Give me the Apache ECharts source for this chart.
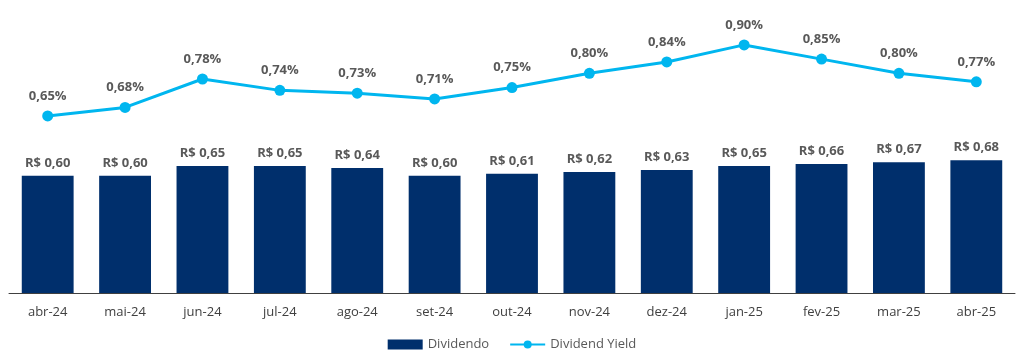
<!DOCTYPE html>
<html><head><meta charset="utf-8">
<script src="https://cdn.jsdelivr.net/npm/echarts@6/dist/echarts.min.js"></script>
<style>html,body{margin:0;padding:0;background:#fff}#c{width:1024px;height:359px}</style>
</head><body><div id="c"></div>
<script>
const categories = ['abr-24','mai-24','jun-24','jul-24','ago-24','set-24','out-24','nov-24','dez-24','jan-25','fev-25','mar-25','abr-25'];
const dividendo = [0.60,0.60,0.65,0.65,0.64,0.60,0.61,0.62,0.63,0.65,0.66,0.67,0.68];
const dividendYield = [0.65,0.68,0.78,0.74,0.73,0.71,0.75,0.80,0.84,0.90,0.85,0.80,0.77];

const fmt = v => v.toFixed(2).replace('.', ',');
const chart = echarts.init(document.getElementById('c'), null, {renderer:'canvas'});
chart.setOption({
  animation:false,
  textStyle:{fontFamily:'Open Sans'},
  grid:{left:9,right:9,top:0,bottom:66,containLabel:false},
  legend:{
    bottom:3,left:'center',itemGap:20,
    textStyle:{color:'#595959',fontSize:13,fontFamily:'Open Sans'},
    data:[{name:'Dividendo',icon:'rect',itemWidth:33,itemHeight:7},{name:'Dividend Yield'}],
    itemWidth:35,itemHeight:10
  },
  xAxis:{type:'category',data:categories,
    axisLine:{lineStyle:{color:'#404040',width:1}},
    axisTick:{show:false},
    axisLabel:{color:'#404040',fontSize:13,margin:13}},
  yAxis:[
    {type:'value',min:0,max:1.5,show:false,splitLine:{show:false}},
    {type:'value',min:0.027,max:1.058,show:false,splitLine:{show:false}}
  ],
  series:[
    {name:'Dividendo',type:'bar',data:dividendo,yAxisIndex:0,barWidth:'67%',
     itemStyle:{color:'#002F6C'},
     label:{show:true,position:'top',distance:6,color:'#595959',fontWeight:'bold',fontSize:13,
       formatter:p=>'R$ '+fmt(p.value)}},
    {name:'Dividend Yield',type:'line',data:dividendYield,yAxisIndex:1,
     symbol:'circle',symbolSize:11,
     lineStyle:{color:'#00B6EF',width:3},itemStyle:{color:'#00B6EF'},
     label:{show:true,position:'top',distance:8,color:'#595959',fontWeight:'bold',fontSize:13,
       formatter:p=>fmt(p.value)+'%'}}
  ]
});
</script></body></html>
